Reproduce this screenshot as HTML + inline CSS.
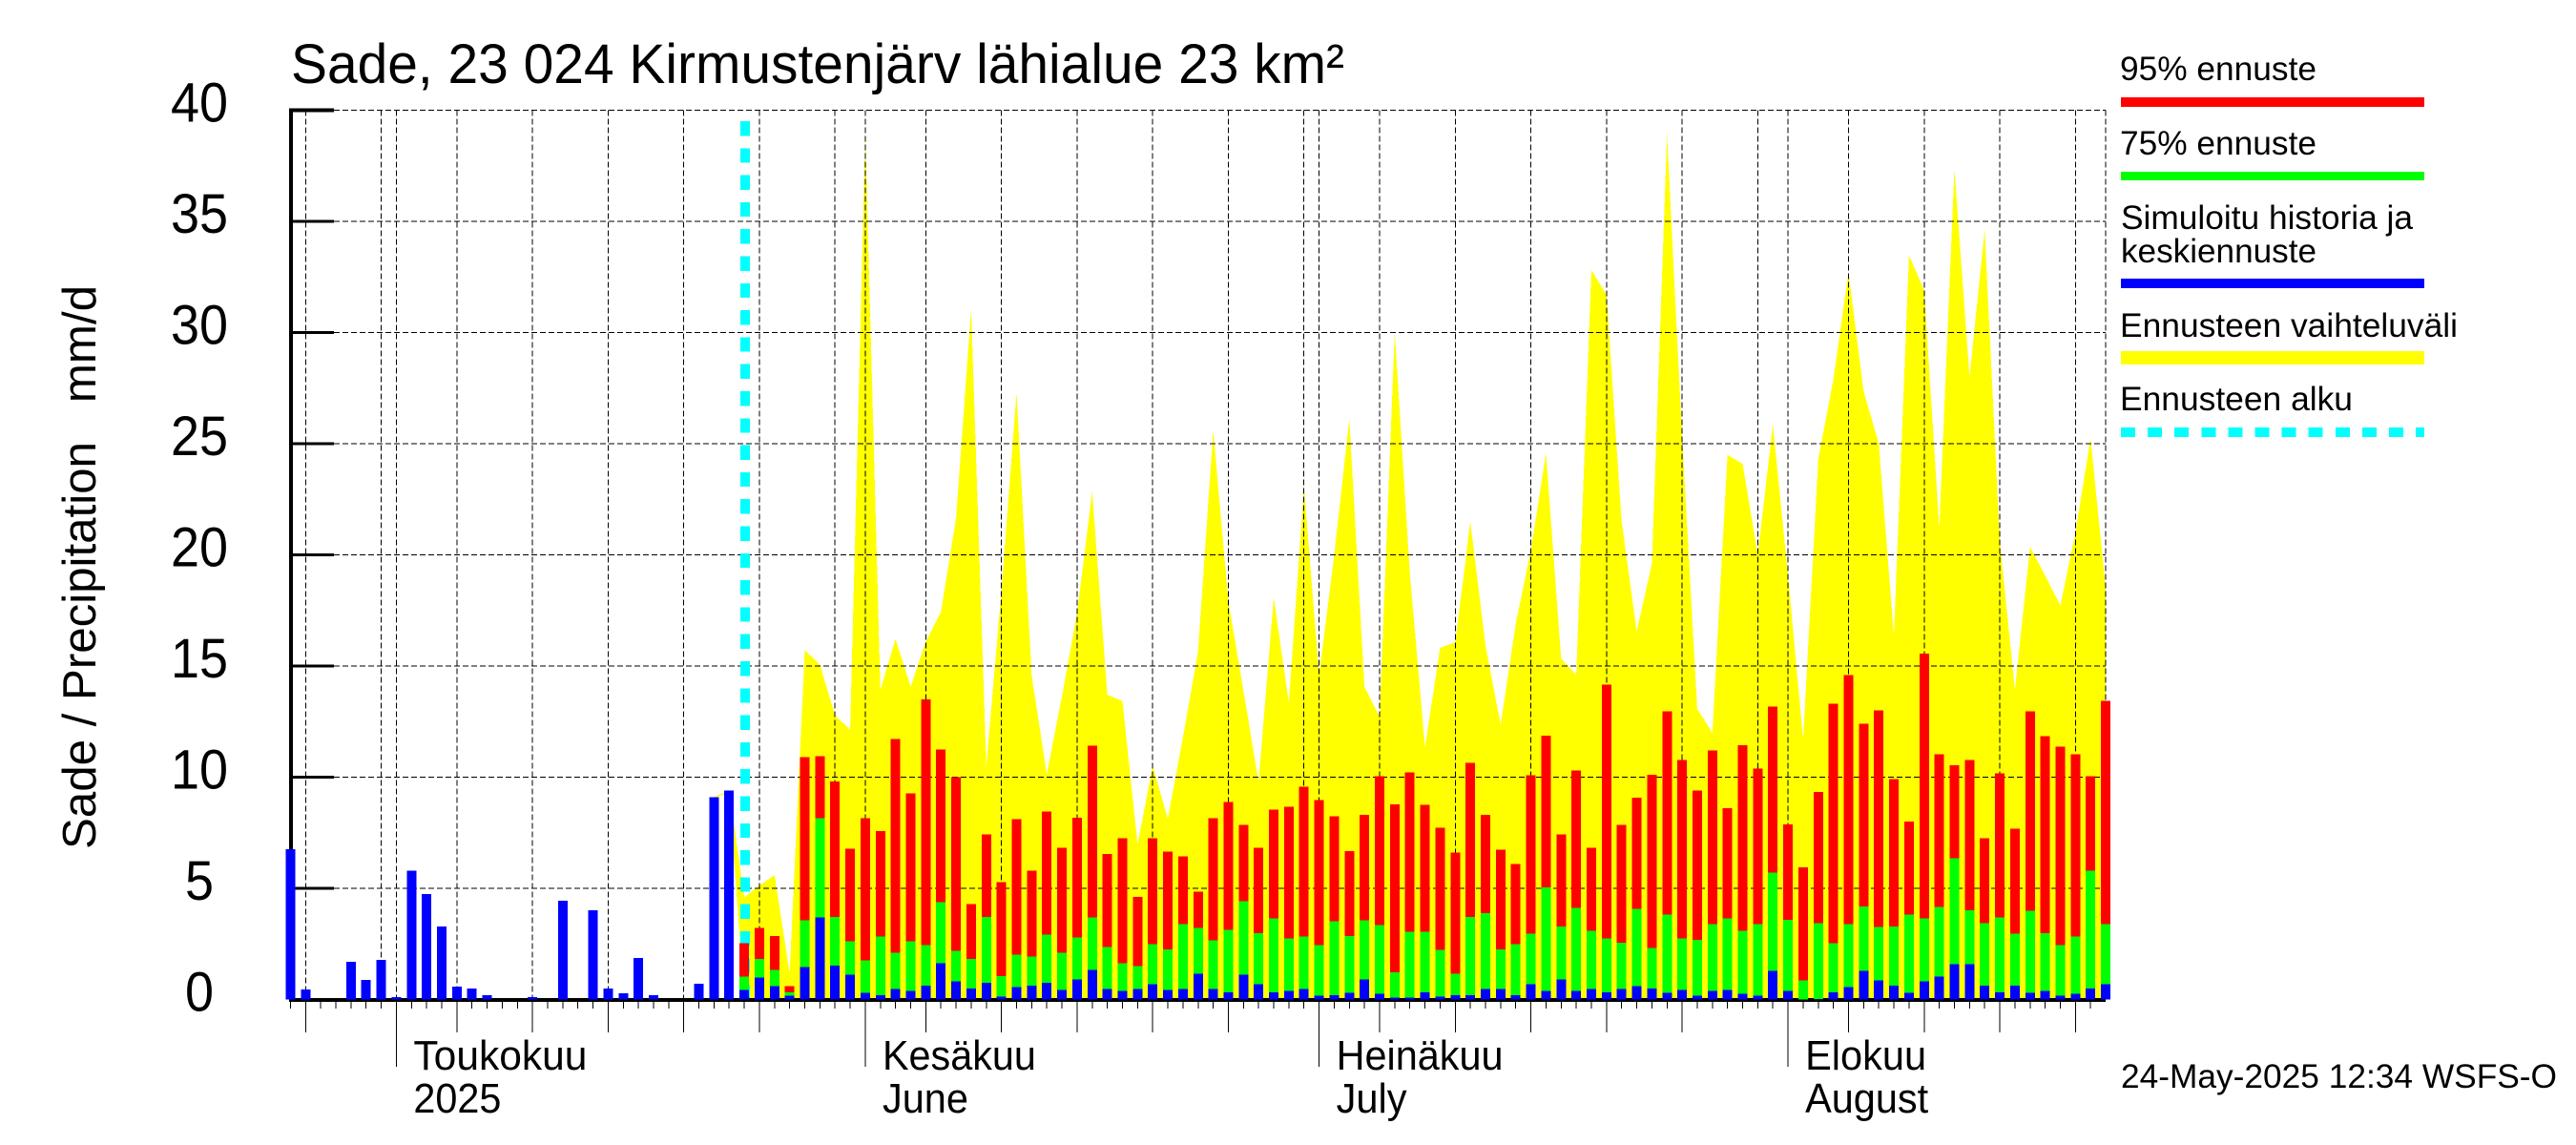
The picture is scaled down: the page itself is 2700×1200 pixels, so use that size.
<!DOCTYPE html>
<html lang="fi">
<head>
<meta charset="utf-8">
<title>Sade, 23 024 Kirmustenjärv lähialue 23 km²</title>
<style>
  html, body { margin: 0; padding: 0; background: #fff; }
  svg { display: block; }
  text { font-family: "Liberation Sans", sans-serif; fill: #000; white-space: pre; }
</style>
</head>
<body>
<svg id="chart" xmlns="http://www.w3.org/2000/svg" width="2700" height="1200" viewBox="0 0 2700 1200">
  <rect x="0" y="0" width="2700" height="1200" fill="#ffffff"/>
  <g id="band-layer" shape-rendering="crispEdges"></g>
  <g id="grid-layer" shape-rendering="crispEdges"></g>
  <g id="start-layer" shape-rendering="crispEdges"></g>
  <g id="axis-layer" shape-rendering="crispEdges"></g>
  <g id="bar-layer" shape-rendering="crispEdges"></g>
  <g id="label-layer"></g>

  <text x="305" y="87" font-size="58" textLength="1104" lengthAdjust="spacingAndGlyphs">Sade, 23 024 Kirmustenjärv lähialue 23 km²</text>
  <text transform="translate(100,890) rotate(-90)" font-size="49" textLength="591" lengthAdjust="spacingAndGlyphs">Sade / Precipitation   mm/d</text>

  <g>
    <g>
      <text x="2222" y="84" font-size="35" textLength="206" lengthAdjust="spacingAndGlyphs">95% ennuste</text>
      <rect x="2223" y="102" width="318" height="10" fill="#ff0000"/>
    </g>
    <g>
      <text x="2222" y="162" font-size="35" textLength="206" lengthAdjust="spacingAndGlyphs">75% ennuste</text>
      <rect x="2223" y="180" width="318" height="9" fill="#00ff00"/>
    </g>
    <g>
      <text x="2223" y="240" font-size="35" textLength="306" lengthAdjust="spacingAndGlyphs">Simuloitu historia ja</text>
      <text x="2223" y="275" font-size="35" textLength="205" lengthAdjust="spacingAndGlyphs">keskiennuste</text>
      <rect x="2223" y="292" width="318" height="10" fill="#0000ff"/>
    </g>
    <g>
      <text x="2222" y="353" font-size="35" textLength="354" lengthAdjust="spacingAndGlyphs">Ennusteen vaihteluväli</text>
      <rect x="2223" y="368" width="318" height="14" fill="#ffff00"/>
    </g>
    <g>
      <text x="2222" y="430" font-size="35" textLength="244" lengthAdjust="spacingAndGlyphs">Ennusteen alku</text>
      <line x1="2223" y1="453" x2="2541" y2="453" stroke="#00ffff" stroke-width="10" stroke-dasharray="15 13.1" shape-rendering="crispEdges"/>
    </g>
  </g>

  <text x="2223" y="1140" font-size="35" textLength="457" lengthAdjust="spacingAndGlyphs">24-May-2025 12:34 WSFS-O</text>
</svg>

<script>
// Day index 0 = 24 April 2025. One value per day, mm/d.
const yTickValues = [0, 5, 10, 15, 20, 25, 30, 35, 40];
const firstForecastDay = 30;
const lastDay = 120;

const meanSeries = [
  6.76,0.46,0,0,1.70,0.89,1.79,0.11,5.81,4.74,
  3.29,0.59,0.50,0.20,0,0,0.11,0,4.44,0,
  4.01,0.50,0.29,1.87,0.20,0,0,0.71,9.11,9.41,
  0.43,0.99,0.60,0.17,1.46,3.69,1.54,1.12,0.30,0.21,
  0.47,0.39,0.64,1.63,0.82,0.51,0.77,0.13,0.56,0.64,
  0.77,0.43,0.90,1.33,0.47,0.39,0.47,0.69,0.43,0.47,
  1.16,0.47,0.34,1.12,0.69,0.34,0.39,0.47,0.17,0.21,
  0.30,0.90,0.26,0.09,0.09,0.34,0.13,0.21,0.21,0.47,
  0.47,0.21,0.69,0.39,0.90,0.39,0.47,0.34,0.47,0.60,
  0.51,0.30,0.43,0.17,0.39,0.43,0.26,0.17,1.29,0.39,
  0,0.04,0.34,0.56,1.29,0.86,0.64,0.30,0.82,1.03,
  1.59,1.59,0.64,0.34,0.64,0.30,0.39,0.17,0.26,0.51,
  0.69
];

// Forecast series start at firstForecastDay.
const forecast75 = [
  1.03,1.84,1.33,0.34,3.56,8.15,3.73,2.62,1.76,2.83,
  2.10,2.62,2.45,4.38,2.19,1.84,3.73,1.07,2.02,1.93,
  2.92,2.10,2.79,3.69,2.36,1.63,1.50,2.49,2.27,3.39,
  3.22,2.66,3.13,4.42,3.00,3.65,2.75,2.83,2.45,3.52,
  2.87,3.56,3.35,1.24,3.05,3.05,2.23,1.16,3.73,3.90,
  2.27,2.49,2.96,5.06,3.30,4.12,3.09,2.75,2.57,4.08,
  2.32,3.82,2.75,2.70,3.39,3.65,3.09,3.39,5.71,3.60,
  0.86,3.43,2.53,3.39,4.20,3.26,3.30,3.82,3.65,4.16,
  6.35,4.03,3.43,3.69,2.96,3.99,3.00,2.45,2.83,5.79,
  3.39
];
const forecast95 = [
  2.53,3.22,2.87,0.60,10.90,10.94,9.82,6.78,8.15,7.59,
  11.71,9.27,13.51,11.24,10.00,4.29,7.42,5.28,8.11,5.79,
  8.45,6.82,8.19,11.41,6.56,7.25,4.63,7.25,6.65,6.44,
  4.85,8.15,8.88,7.85,6.82,8.54,8.67,9.57,8.97,8.24,
  6.69,8.32,10.04,8.79,10.21,8.75,7.72,6.61,10.64,8.32,
  6.74,6.09,10.08,11.88,7.42,10.30,6.82,14.16,7.85,9.09,
  10.12,12.96,10.77,9.40,11.20,8.62,11.45,10.38,13.17,7.89,
  5.96,9.35,13.30,14.59,12.40,13.00,9.91,8.02,15.57,11.03,
  10.55,10.77,7.25,10.17,7.68,12.96,11.84,11.37,11.03,10.04,
  13.43
];
// Upper edge of the forecast range, days 30..120.
const rangeUpper = [
  4.60,5.13,5.60,1.20,15.72,15.07,12.79,12.14,38.90,13.93,
  16.22,14.07,16.10,17.43,21.65,31.05,10.50,18.40,27.30,14.57,
  10.14,13.64,17.36,22.85,13.71,13.43,6.99,10.50,8.14,11.80,
  15.65,25.60,17.93,13.90,9.78,18.07,13.36,23.07,14.57,20.00,
  26.10,14.07,12.71,30.00,19.20,11.35,15.82,16.07,21.50,15.93,
  12.36,16.90,20.20,24.57,15.34,14.60,32.80,31.70,21.50,16.57,
  19.60,38.90,25.30,13.07,12.00,24.50,24.09,20.00,25.85,19.07,
  11.71,24.30,27.90,32.70,27.35,25.00,16.36,33.46,31.90,21.20,
  37.35,28.00,34.60,20.60,13.93,20.35,19.07,17.72,21.00,25.25,
  18.50
];

// Date-axis marks, as day indices.
const gridOnlyDays = [6, 36, 67, 97, 120];
const fiveDayDays = [1, 11, 16, 21, 26, 31, 42, 47, 52, 57, 62, 72, 77, 82, 87, 92, 103, 108, 113, 118];
const monthStartDays = [7, 38, 68, 99];
const monthLabelsFi = ['Toukokuu', 'Kesäkuu', 'Heinäkuu', 'Elokuu'];
const monthLabelsEn = ['2025', 'June', 'July', 'August'];
const monthWidthsFi = [182, 161, 175, 127];
const monthWidthsEn = [92, 90, 74, 129];

const SVG_NS = 'http://www.w3.org/2000/svg';
const xAxis = (day) => 304.45 + 15.855 * day;
const yAxis = (value) => 1047.7 - 23.31 * value;

function make(tag, parent, attrs) {
  const node = document.createElementNS(SVG_NS, tag);
  for (const key in attrs) node.setAttribute(key, attrs[key]);
  parent.appendChild(node);
  return node;
}

const bandLayer = document.getElementById('band-layer');
const gridLayer = document.getElementById('grid-layer');
const startLayer = document.getElementById('start-layer');
const axisLayer = document.getElementById('axis-layer');
const barLayer = document.getElementById('bar-layer');
const labelLayer = document.getElementById('label-layer');

// Forecast range polygon: starts at the last simulated days, then spreads out.
const topEdge = [];
const bottomEdge = [];
for (let d = firstForecastDay - 2; d < firstForecastDay; d++) {
  topEdge.push(xAxis(d) + ',' + yAxis(meanSeries[d]));
  bottomEdge.push(xAxis(d) + ',' + (yAxis(meanSeries[d]) + 1.5));
}
rangeUpper.forEach(function (v, k) {
  const d = firstForecastDay + k;
  topEdge.push(xAxis(d) + ',' + yAxis(v));
  bottomEdge.push(xAxis(d) + ',' + yAxis(0));
});
const band = make('polygon', bandLayer, { points: topEdge.concat(bottomEdge.reverse()).join(' '), fill: '#ffff00' });



// Grid
yTickValues.filter(function (v) { return v > 0; }).forEach(function (v) {
  const line = make('line', gridLayer, { x1: 350, x2: xAxis(lastDay), y1: yAxis(v), y2: yAxis(v), stroke: '#000', 'stroke-width': 1, 'stroke-dasharray': '6 3' });
  
  
});
gridOnlyDays.concat(fiveDayDays, monthStartDays).forEach(function (d) {
  const line = make('line', gridLayer, { x1: xAxis(d), x2: xAxis(d), y1: yAxis(40), y2: yAxis(0), stroke: '#000', 'stroke-width': 1, 'stroke-dasharray': '6 3' });
  
  
});

// Forecast start marker
const startLine = make('line', startLayer, { x1: xAxis(firstForecastDay) + 1, x2: xAxis(firstForecastDay) + 1, y1: 127, y2: yAxis(0), stroke: '#00ffff', 'stroke-width': 10, 'stroke-dasharray': '15.3 13' });



// Axes
const yLine = make('rect', axisLayer, { x: 303, y: yAxis(40) - 2, width: 4, height: yAxis(0) - yAxis(40) + 4, fill: '#000' });


const xLine = make('rect', axisLayer, { x: 303, y: 1046, width: xAxis(lastDay) - 303, height: 4, fill: '#000' });



yTickValues.forEach(function (v) {
  if (v > 0) {
    const h = v === 40 ? 4 : 3;
    const tick = make('rect', axisLayer, { x: 303, y: yAxis(v) - h / 2, width: 47, height: h, fill: '#000' });
    
    
  }
  const label = make('text', labelLayer, { x: 209, y: yAxis(v) + 12, 'font-size': 58, 'text-anchor': 'middle', textLength: v < 10 ? 30 : 60, lengthAdjust: 'spacingAndGlyphs' });
  label.textContent = String(v);
  
  
});

function xTick(day, bottom) {
  const tick = make('line', axisLayer, { x1: xAxis(day), x2: xAxis(day), y1: 1050, y2: bottom, stroke: '#000', 'stroke-width': 1 });
  
  
}
for (let d = 0; d < lastDay; d++) {
  xTick(d, 1057);
}
fiveDayDays.forEach(function (d) { xTick(d, 1082); });
monthStartDays.forEach(function (d) { xTick(d, 1118); });

monthStartDays.forEach(function (d, k) {
  const x = xAxis(d) + 18;
  const fi = make('text', labelLayer, { x: x, y: 1121, 'font-size': 44, textLength: monthWidthsFi[k], lengthAdjust: 'spacingAndGlyphs' });
  fi.textContent = monthLabelsFi[k];
  
  
  const en = make('text', labelLayer, { x: x, y: 1166, 'font-size': 44, textLength: monthWidthsEn[k], lengthAdjust: 'spacingAndGlyphs' });
  en.textContent = monthLabelsEn[k];
  
  
});

// Bars
function bar(day, value, color) {
  const top = yAxis(value);
  const rect = make('rect', barLayer, { x: xAxis(day) - 5, y: top, width: 10, height: Math.max(0, yAxis(0) - top), fill: color });
  return rect;
}
forecast95.forEach(function (v, k) {
  const rect = bar(firstForecastDay + k, v, '#ff0000');
  
  
});
forecast75.forEach(function (v, k) {
  const rect = bar(firstForecastDay + k, v, '#00ff00');
  
  
});
meanSeries.forEach(function (v, d) {
  const rect = bar(d, v, '#0000ff');
  
  
});
</script>
</body>
</html>
